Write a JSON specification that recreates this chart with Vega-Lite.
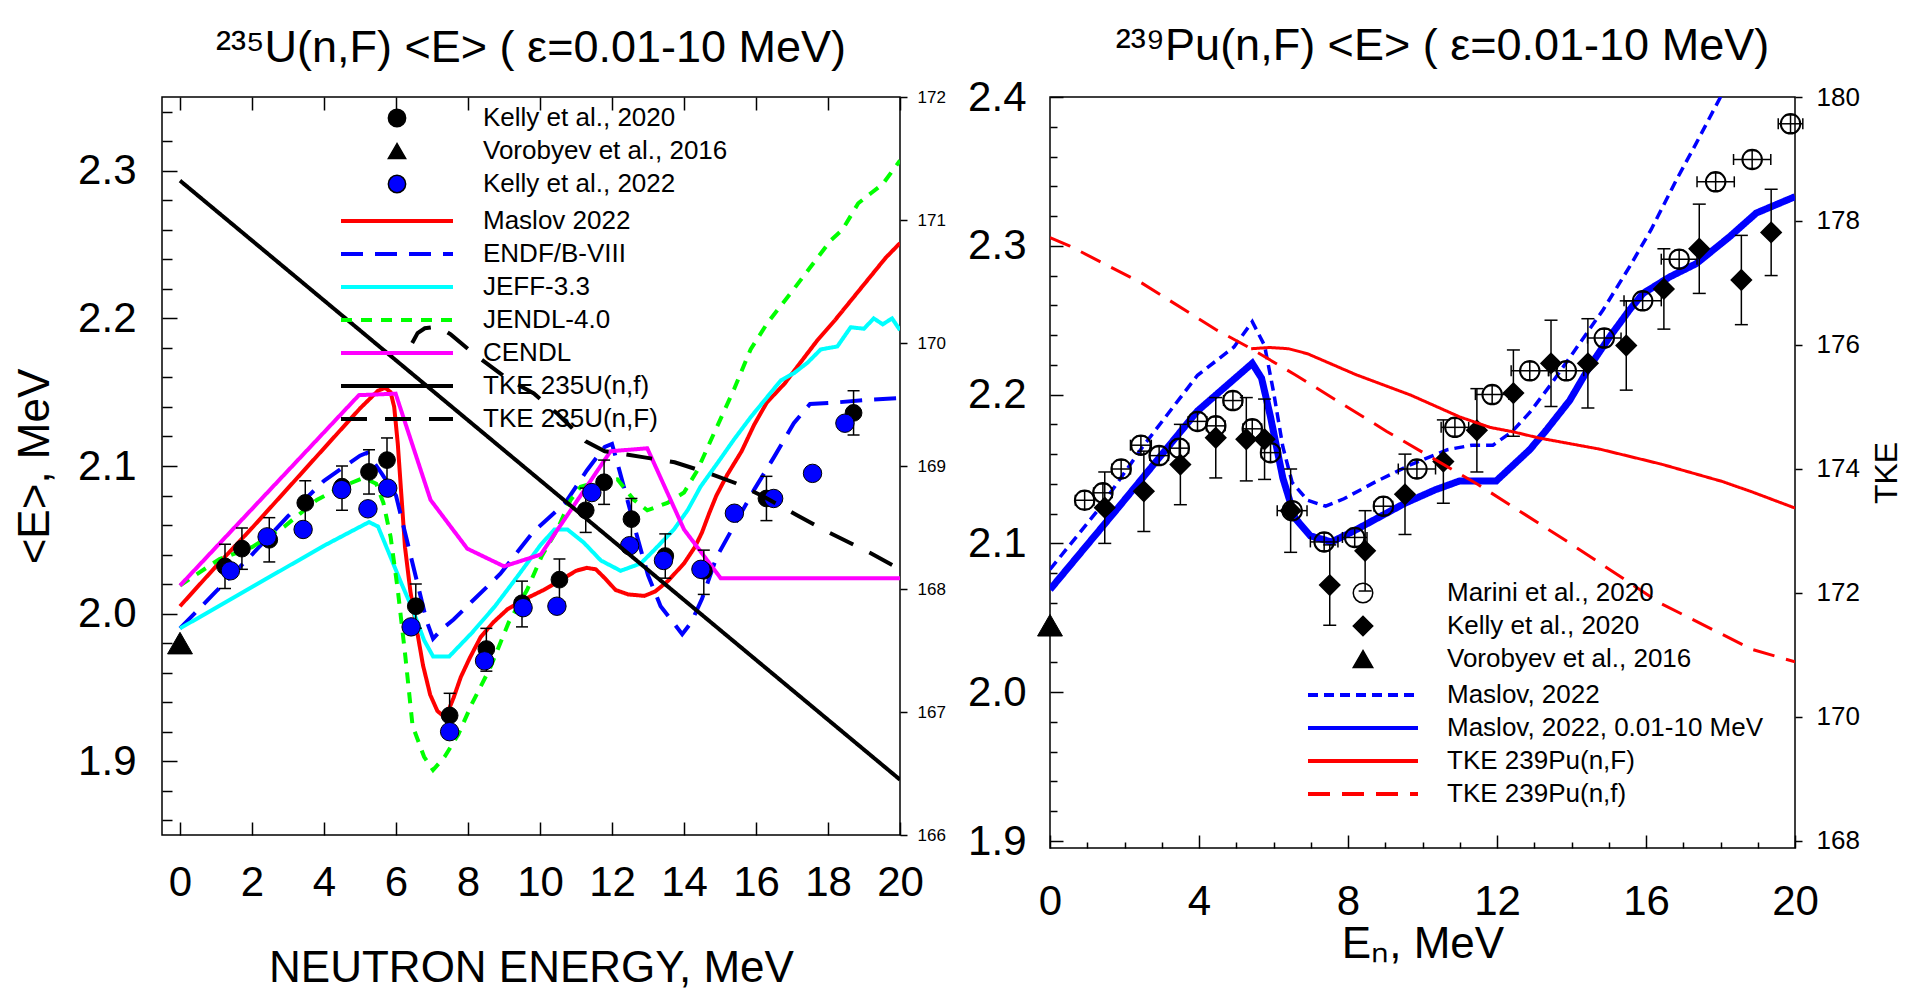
{
  "$schema": "https://vega.github.io/schema/vega-lite/v6.json",
  "background": "white",
  "padding": {"left": 12, "top": 23, "right": 0, "bottom": 0},
  "config": {
    "font": "Liberation Sans",
    "view": {"stroke": "black", "strokeWidth": 1.5},
    "axis": {"grid": false, "domain": false, "tickColor": "black", "labelColor": "black", "titleColor": "black", "titleFontWeight": "normal", "tickWidth": 1.5, "labelFont": "Liberation Sans", "titleFont": "Liberation Sans", "labelLimit": 0, "labelFlush": false},
    "legend": {"labelFont": "Liberation Sans", "labelColor": "black", "labelLimit": 0}
  },
  "datasets": {
    "l_lines": [
      {"s": "Maslov 2022", "E": 0, "V": 2.005}, {"s": "Maslov 2022", "E": 1, "V": 2.032}, {"s": "Maslov 2022", "E": 2, "V": 2.058}, {"s": "Maslov 2022", "E": 3, "V": 2.085}, {"s": "Maslov 2022", "E": 4, "V": 2.112}, {"s": "Maslov 2022", "E": 5, "V": 2.139}, {"s": "Maslov 2022", "E": 5.5, "V": 2.151}, {"s": "Maslov 2022", "E": 5.7, "V": 2.153}, {"s": "Maslov 2022", "E": 5.85, "V": 2.15}, {"s": "Maslov 2022", "E": 5.95, "V": 2.14}, {"s": "Maslov 2022", "E": 6.05, "V": 2.115}, {"s": "Maslov 2022", "E": 6.15, "V": 2.08}, {"s": "Maslov 2022", "E": 6.25, "V": 2.045}, {"s": "Maslov 2022", "E": 6.4, "V": 2.015}, {"s": "Maslov 2022", "E": 6.55, "V": 1.993}, {"s": "Maslov 2022", "E": 6.75, "V": 1.965}, {"s": "Maslov 2022", "E": 6.95, "V": 1.945}, {"s": "Maslov 2022", "E": 7.15, "V": 1.934}, {"s": "Maslov 2022", "E": 7.3, "V": 1.931}, {"s": "Maslov 2022", "E": 7.45, "V": 1.934}, {"s": "Maslov 2022", "E": 7.6, "V": 1.943}, {"s": "Maslov 2022", "E": 7.8, "V": 1.957}, {"s": "Maslov 2022", "E": 8.05, "V": 1.97}, {"s": "Maslov 2022", "E": 8.35, "V": 1.984}, {"s": "Maslov 2022", "E": 8.7, "V": 1.994}, {"s": "Maslov 2022", "E": 9.1, "V": 2.003}, {"s": "Maslov 2022", "E": 9.6, "V": 2.01}, {"s": "Maslov 2022", "E": 10.1, "V": 2.016}, {"s": "Maslov 2022", "E": 10.6, "V": 2.023}, {"s": "Maslov 2022", "E": 11.0, "V": 2.029}, {"s": "Maslov 2022", "E": 11.3, "V": 2.031}, {"s": "Maslov 2022", "E": 11.55, "V": 2.03}, {"s": "Maslov 2022", "E": 11.8, "V": 2.024}, {"s": "Maslov 2022", "E": 12.1, "V": 2.016}, {"s": "Maslov 2022", "E": 12.45, "V": 2.013}, {"s": "Maslov 2022", "E": 12.9, "V": 2.012}, {"s": "Maslov 2022", "E": 13.2, "V": 2.015}, {"s": "Maslov 2022", "E": 13.55, "V": 2.022}, {"s": "Maslov 2022", "E": 14.0, "V": 2.034}, {"s": "Maslov 2022", "E": 14.3, "V": 2.045}, {"s": "Maslov 2022", "E": 14.5, "V": 2.055}, {"s": "Maslov 2022", "E": 14.7, "V": 2.068}, {"s": "Maslov 2022", "E": 14.9, "V": 2.08}, {"s": "Maslov 2022", "E": 15.2, "V": 2.094}, {"s": "Maslov 2022", "E": 15.6, "V": 2.11}, {"s": "Maslov 2022", "E": 15.95, "V": 2.128}, {"s": "Maslov 2022", "E": 16.3, "V": 2.143}, {"s": "Maslov 2022", "E": 16.8, "V": 2.156}, {"s": "Maslov 2022", "E": 17.2, "V": 2.169}, {"s": "Maslov 2022", "E": 17.7, "V": 2.185}, {"s": "Maslov 2022", "E": 18.2, "V": 2.199}, {"s": "Maslov 2022", "E": 18.7, "V": 2.214}, {"s": "Maslov 2022", "E": 19.2, "V": 2.229}, {"s": "Maslov 2022", "E": 19.6, "V": 2.241}, {"s": "Maslov 2022", "E": 20, "V": 2.251},
      {"s": "ENDF/B-VIII", "E": 0, "V": 1.99}, {"s": "ENDF/B-VIII", "E": 1, "V": 2.015}, {"s": "ENDF/B-VIII", "E": 2, "V": 2.04}, {"s": "ENDF/B-VIII", "E": 3, "V": 2.066}, {"s": "ENDF/B-VIII", "E": 4, "V": 2.09}, {"s": "ENDF/B-VIII", "E": 5, "V": 2.107}, {"s": "ENDF/B-VIII", "E": 5.2, "V": 2.109}, {"s": "ENDF/B-VIII", "E": 5.6, "V": 2.095}, {"s": "ENDF/B-VIII", "E": 6.0, "V": 2.08}, {"s": "ENDF/B-VIII", "E": 6.3, "V": 2.05}, {"s": "ENDF/B-VIII", "E": 6.6, "V": 2.02}, {"s": "ENDF/B-VIII", "E": 6.85, "V": 1.995}, {"s": "ENDF/B-VIII", "E": 7.03, "V": 1.983}, {"s": "ENDF/B-VIII", "E": 7.3, "V": 1.99}, {"s": "ENDF/B-VIII", "E": 7.6, "V": 1.996}, {"s": "ENDF/B-VIII", "E": 8.1, "V": 2.008}, {"s": "ENDF/B-VIII", "E": 8.9, "V": 2.027}, {"s": "ENDF/B-VIII", "E": 9.8, "V": 2.055}, {"s": "ENDF/B-VIII", "E": 10.7, "V": 2.075}, {"s": "ENDF/B-VIII", "E": 11.3, "V": 2.097}, {"s": "ENDF/B-VIII", "E": 11.8, "V": 2.113}, {"s": "ENDF/B-VIII", "E": 12.0, "V": 2.115}, {"s": "ENDF/B-VIII", "E": 12.15, "V": 2.102}, {"s": "ENDF/B-VIII", "E": 12.45, "V": 2.075}, {"s": "ENDF/B-VIII", "E": 12.7, "V": 2.052}, {"s": "ENDF/B-VIII", "E": 13.0, "V": 2.026}, {"s": "ENDF/B-VIII", "E": 13.35, "V": 2.005}, {"s": "ENDF/B-VIII", "E": 13.7, "V": 1.994}, {"s": "ENDF/B-VIII", "E": 13.95, "V": 1.986}, {"s": "ENDF/B-VIII", "E": 14.2, "V": 1.994}, {"s": "ENDF/B-VIII", "E": 14.5, "V": 2.01}, {"s": "ENDF/B-VIII", "E": 14.9, "V": 2.038}, {"s": "ENDF/B-VIII", "E": 15.4, "V": 2.06}, {"s": "ENDF/B-VIII", "E": 15.95, "V": 2.084}, {"s": "ENDF/B-VIII", "E": 16.5, "V": 2.106}, {"s": "ENDF/B-VIII", "E": 17.05, "V": 2.129}, {"s": "ENDF/B-VIII", "E": 17.5, "V": 2.142}, {"s": "ENDF/B-VIII", "E": 18.2, "V": 2.143}, {"s": "ENDF/B-VIII", "E": 19.2, "V": 2.145}, {"s": "ENDF/B-VIII", "E": 20, "V": 2.146},
      {"s": "JEFF-3.3", "E": 0, "V": 1.99}, {"s": "JEFF-3.3", "E": 1, "V": 2.004}, {"s": "JEFF-3.3", "E": 2, "V": 2.018}, {"s": "JEFF-3.3", "E": 3, "V": 2.032}, {"s": "JEFF-3.3", "E": 4, "V": 2.046}, {"s": "JEFF-3.3", "E": 5.25, "V": 2.062}, {"s": "JEFF-3.3", "E": 5.5, "V": 2.059}, {"s": "JEFF-3.3", "E": 5.82, "V": 2.04}, {"s": "JEFF-3.3", "E": 6.14, "V": 2.021}, {"s": "JEFF-3.3", "E": 6.46, "V": 2.003}, {"s": "JEFF-3.3", "E": 6.78, "V": 1.982}, {"s": "JEFF-3.3", "E": 7.03, "V": 1.971}, {"s": "JEFF-3.3", "E": 7.48, "V": 1.971}, {"s": "JEFF-3.3", "E": 8.11, "V": 1.987}, {"s": "JEFF-3.3", "E": 8.75, "V": 2.005}, {"s": "JEFF-3.3", "E": 9.4, "V": 2.026}, {"s": "JEFF-3.3", "E": 10.0, "V": 2.046}, {"s": "JEFF-3.3", "E": 10.4, "V": 2.057}, {"s": "JEFF-3.3", "E": 10.76, "V": 2.057}, {"s": "JEFF-3.3", "E": 11.22, "V": 2.048}, {"s": "JEFF-3.3", "E": 11.69, "V": 2.036}, {"s": "JEFF-3.3", "E": 12.24, "V": 2.029}, {"s": "JEFF-3.3", "E": 12.8, "V": 2.034}, {"s": "JEFF-3.3", "E": 13.17, "V": 2.043}, {"s": "JEFF-3.3", "E": 13.72, "V": 2.057}, {"s": "JEFF-3.3", "E": 14.1, "V": 2.07}, {"s": "JEFF-3.3", "E": 14.46, "V": 2.086}, {"s": "JEFF-3.3", "E": 14.93, "V": 2.102}, {"s": "JEFF-3.3", "E": 15.39, "V": 2.118}, {"s": "JEFF-3.3", "E": 15.85, "V": 2.133}, {"s": "JEFF-3.3", "E": 16.32, "V": 2.147}, {"s": "JEFF-3.3", "E": 16.69, "V": 2.158}, {"s": "JEFF-3.3", "E": 17.06, "V": 2.163}, {"s": "JEFF-3.3", "E": 17.43, "V": 2.17}, {"s": "JEFF-3.3", "E": 17.8, "V": 2.179}, {"s": "JEFF-3.3", "E": 18.26, "V": 2.181}, {"s": "JEFF-3.3", "E": 18.63, "V": 2.194}, {"s": "JEFF-3.3", "E": 19.0, "V": 2.193}, {"s": "JEFF-3.3", "E": 19.27, "V": 2.2}, {"s": "JEFF-3.3", "E": 19.52, "V": 2.196}, {"s": "JEFF-3.3", "E": 19.78, "V": 2.2}, {"s": "JEFF-3.3", "E": 20, "V": 2.192},
      {"s": "JENDL-4.0", "E": 0, "V": 2.019}, {"s": "JENDL-4.0", "E": 1.1, "V": 2.037}, {"s": "JENDL-4.0", "E": 2, "V": 2.045}, {"s": "JENDL-4.0", "E": 2.9, "V": 2.059}, {"s": "JENDL-4.0", "E": 3.8, "V": 2.077}, {"s": "JENDL-4.0", "E": 4.5, "V": 2.086}, {"s": "JENDL-4.0", "E": 5.1, "V": 2.092}, {"s": "JENDL-4.0", "E": 5.45, "V": 2.088}, {"s": "JENDL-4.0", "E": 5.65, "V": 2.075}, {"s": "JENDL-4.0", "E": 5.85, "V": 2.052}, {"s": "JENDL-4.0", "E": 6.05, "V": 2.016}, {"s": "JENDL-4.0", "E": 6.26, "V": 1.971}, {"s": "JENDL-4.0", "E": 6.46, "V": 1.924}, {"s": "JENDL-4.0", "E": 6.78, "V": 1.903}, {"s": "JENDL-4.0", "E": 7.03, "V": 1.894}, {"s": "JENDL-4.0", "E": 7.35, "V": 1.903}, {"s": "JENDL-4.0", "E": 7.73, "V": 1.918}, {"s": "JENDL-4.0", "E": 8.11, "V": 1.939}, {"s": "JENDL-4.0", "E": 8.63, "V": 1.964}, {"s": "JENDL-4.0", "E": 9.13, "V": 1.994}, {"s": "JENDL-4.0", "E": 9.64, "V": 2.016}, {"s": "JENDL-4.0", "E": 10.05, "V": 2.039}, {"s": "JENDL-4.0", "E": 10.48, "V": 2.057}, {"s": "JENDL-4.0", "E": 10.85, "V": 2.077}, {"s": "JENDL-4.0", "E": 11.13, "V": 2.086}, {"s": "JENDL-4.0", "E": 11.7, "V": 2.09}, {"s": "JENDL-4.0", "E": 12.15, "V": 2.091}, {"s": "JENDL-4.0", "E": 12.61, "V": 2.077}, {"s": "JENDL-4.0", "E": 12.98, "V": 2.07}, {"s": "JENDL-4.0", "E": 13.54, "V": 2.075}, {"s": "JENDL-4.0", "E": 14.0, "V": 2.082}, {"s": "JENDL-4.0", "E": 14.37, "V": 2.097}, {"s": "JENDL-4.0", "E": 14.83, "V": 2.122}, {"s": "JENDL-4.0", "E": 15.39, "V": 2.152}, {"s": "JENDL-4.0", "E": 15.85, "V": 2.179}, {"s": "JENDL-4.0", "E": 16.32, "V": 2.197}, {"s": "JENDL-4.0", "E": 16.96, "V": 2.217}, {"s": "JENDL-4.0", "E": 17.52, "V": 2.235}, {"s": "JENDL-4.0", "E": 18.08, "V": 2.253}, {"s": "JENDL-4.0", "E": 18.4, "V": 2.26}, {"s": "JENDL-4.0", "E": 18.84, "V": 2.278}, {"s": "JENDL-4.0", "E": 19.2, "V": 2.285}, {"s": "JENDL-4.0", "E": 19.52, "V": 2.291}, {"s": "JENDL-4.0", "E": 20, "V": 2.307},
      {"s": "CENDL", "E": 0, "V": 2.019}, {"s": "CENDL", "E": 4.97, "V": 2.148}, {"s": "CENDL", "E": 5.99, "V": 2.149}, {"s": "CENDL", "E": 6.96, "V": 2.077}, {"s": "CENDL", "E": 7.98, "V": 2.044}, {"s": "CENDL", "E": 9.0, "V": 2.032}, {"s": "CENDL", "E": 10.02, "V": 2.04}, {"s": "CENDL", "E": 11.96, "V": 2.11}, {"s": "CENDL", "E": 12.98, "V": 2.112}, {"s": "CENDL", "E": 14.0, "V": 2.057}, {"s": "CENDL", "E": 15.02, "V": 2.024}, {"s": "CENDL", "E": 20, "V": 2.024}
    ],
    "l_tke": [
      {"s": "TKE 235U(n,f)", "E": 0, "T": 171.32}, {"s": "TKE 235U(n,f)", "E": 20, "T": 166.45},
      {"s": "TKE 235U(n,F)", "E": 6.45, "T": 170.0}, {"s": "TKE 235U(n,F)", "E": 6.6, "T": 170.08}, {"s": "TKE 235U(n,F)", "E": 6.8, "T": 170.12}, {"s": "TKE 235U(n,F)", "E": 7.06, "T": 170.13}, {"s": "TKE 235U(n,F)", "E": 7.3, "T": 170.11}, {"s": "TKE 235U(n,F)", "E": 7.52, "T": 170.07}, {"s": "TKE 235U(n,F)", "E": 8.17, "T": 169.91}, {"s": "TKE 235U(n,F)", "E": 9.14, "T": 169.7}, {"s": "TKE 235U(n,F)", "E": 9.83, "T": 169.59}, {"s": "TKE 235U(n,F)", "E": 10.5, "T": 169.42}, {"s": "TKE 235U(n,F)", "E": 11.27, "T": 169.2}, {"s": "TKE 235U(n,F)", "E": 11.8, "T": 169.12}, {"s": "TKE 235U(n,F)", "E": 12.9, "T": 169.07}, {"s": "TKE 235U(n,F)", "E": 13.74, "T": 169.03}, {"s": "TKE 235U(n,F)", "E": 14.6, "T": 168.95}, {"s": "TKE 235U(n,F)", "E": 15.44, "T": 168.86}, {"s": "TKE 235U(n,F)", "E": 16.22, "T": 168.75}, {"s": "TKE 235U(n,F)", "E": 17.14, "T": 168.6}, {"s": "TKE 235U(n,F)", "E": 17.89, "T": 168.48}, {"s": "TKE 235U(n,F)", "E": 19.19, "T": 168.29}, {"s": "TKE 235U(n,F)", "E": 20, "T": 168.16}
    ],
    "l_pts": [
      {"s": "Kelly et al., 2020", "E": 1.25, "V": 2.032}, {"s": "Kelly et al., 2020", "E": 1.72, "V": 2.044}, {"s": "Kelly et al., 2020", "E": 2.48, "V": 2.05}, {"s": "Kelly et al., 2020", "E": 3.48, "V": 2.075}, {"s": "Kelly et al., 2020", "E": 4.5, "V": 2.086}, {"s": "Kelly et al., 2020", "E": 5.25, "V": 2.096}, {"s": "Kelly et al., 2020", "E": 5.75, "V": 2.104}, {"s": "Kelly et al., 2020", "E": 6.55, "V": 2.005}, {"s": "Kelly et al., 2020", "E": 7.49, "V": 1.931}, {"s": "Kelly et al., 2020", "E": 8.51, "V": 1.976}, {"s": "Kelly et al., 2020", "E": 9.5, "V": 2.007}, {"s": "Kelly et al., 2020", "E": 10.54, "V": 2.023}, {"s": "Kelly et al., 2020", "E": 11.27, "V": 2.07}, {"s": "Kelly et al., 2020", "E": 11.78, "V": 2.089}, {"s": "Kelly et al., 2020", "E": 12.54, "V": 2.064}, {"s": "Kelly et al., 2020", "E": 13.48, "V": 2.039}, {"s": "Kelly et al., 2020", "E": 14.55, "V": 2.029}, {"s": "Kelly et al., 2020", "E": 16.29, "V": 2.078}, {"s": "Kelly et al., 2020", "E": 18.71, "V": 2.136},
      {"s": "Vorobyev et al., 2016", "E": 0, "V": 1.98},
      {"s": "Kelly et al., 2022", "E": 1.4, "V": 2.029}, {"s": "Kelly et al., 2022", "E": 2.42, "V": 2.052}, {"s": "Kelly et al., 2022", "E": 3.42, "V": 2.057}, {"s": "Kelly et al., 2022", "E": 4.49, "V": 2.084}, {"s": "Kelly et al., 2022", "E": 5.22, "V": 2.071}, {"s": "Kelly et al., 2022", "E": 5.77, "V": 2.085}, {"s": "Kelly et al., 2022", "E": 6.42, "V": 1.991}, {"s": "Kelly et al., 2022", "E": 7.49, "V": 1.92}, {"s": "Kelly et al., 2022", "E": 8.46, "V": 1.968}, {"s": "Kelly et al., 2022", "E": 9.53, "V": 2.004}, {"s": "Kelly et al., 2022", "E": 10.47, "V": 2.005}, {"s": "Kelly et al., 2022", "E": 11.44, "V": 2.082}, {"s": "Kelly et al., 2022", "E": 12.49, "V": 2.046}, {"s": "Kelly et al., 2022", "E": 13.43, "V": 2.036}, {"s": "Kelly et al., 2022", "E": 14.47, "V": 2.03}, {"s": "Kelly et al., 2022", "E": 15.4, "V": 2.068}, {"s": "Kelly et al., 2022", "E": 16.49, "V": 2.078}, {"s": "Kelly et al., 2022", "E": 17.57, "V": 2.095}, {"s": "Kelly et al., 2022", "E": 18.47, "V": 2.129}
    ],
    "l_err": [
      {"E": 1.25, "lo": 2.017, "hi": 2.047}, {"E": 1.72, "lo": 2.03, "hi": 2.058}, {"E": 2.48, "lo": 2.035, "hi": 2.065}, {"E": 3.48, "lo": 2.06, "hi": 2.09}, {"E": 4.5, "lo": 2.07, "hi": 2.1}, {"E": 5.25, "lo": 2.081, "hi": 2.111}, {"E": 5.75, "lo": 2.089, "hi": 2.119}, {"E": 6.55, "lo": 1.99, "hi": 2.02}, {"E": 7.49, "lo": 1.917, "hi": 1.946}, {"E": 8.51, "lo": 1.961, "hi": 1.99}, {"E": 9.5, "lo": 1.991, "hi": 2.022}, {"E": 10.54, "lo": 2.008, "hi": 2.037}, {"E": 11.27, "lo": 2.055, "hi": 2.085}, {"E": 11.78, "lo": 2.074, "hi": 2.104}, {"E": 12.54, "lo": 2.05, "hi": 2.078}, {"E": 13.48, "lo": 2.024, "hi": 2.054}, {"E": 14.55, "lo": 2.013, "hi": 2.043}, {"E": 16.29, "lo": 2.063, "hi": 2.093}, {"E": 18.71, "lo": 2.121, "hi": 2.151}
    ],
    "r_lines": [
      {"s": "Maslov, 2022", "E": 0, "V": 2.0825}, {"s": "Maslov, 2022", "E": 1.34, "V": 2.124}, {"s": "Maslov, 2022", "E": 2.49, "V": 2.165}, {"s": "Maslov, 2022", "E": 3.96, "V": 2.213}, {"s": "Maslov, 2022", "E": 4.94, "V": 2.232}, {"s": "Maslov, 2022", "E": 5.43, "V": 2.249}, {"s": "Maslov, 2022", "E": 5.76, "V": 2.233}, {"s": "Maslov, 2022", "E": 6.0, "V": 2.202}, {"s": "Maslov, 2022", "E": 6.25, "V": 2.165}, {"s": "Maslov, 2022", "E": 6.5, "V": 2.141}, {"s": "Maslov, 2022", "E": 6.91, "V": 2.129}, {"s": "Maslov, 2022", "E": 7.4, "V": 2.125}, {"s": "Maslov, 2022", "E": 7.89, "V": 2.13}, {"s": "Maslov, 2022", "E": 8.71, "V": 2.141}, {"s": "Maslov, 2022", "E": 9.69, "V": 2.153}, {"s": "Maslov, 2022", "E": 10.67, "V": 2.163}, {"s": "Maslov, 2022", "E": 11.33, "V": 2.166}, {"s": "Maslov, 2022", "E": 11.89, "V": 2.166}, {"s": "Maslov, 2022", "E": 12.4, "V": 2.175}, {"s": "Maslov, 2022", "E": 12.88, "V": 2.188}, {"s": "Maslov, 2022", "E": 13.45, "V": 2.207}, {"s": "Maslov, 2022", "E": 14.04, "V": 2.228}, {"s": "Maslov, 2022", "E": 14.85, "V": 2.257}, {"s": "Maslov, 2022", "E": 15.56, "V": 2.286}, {"s": "Maslov, 2022", "E": 16.14, "V": 2.311}, {"s": "Maslov, 2022", "E": 16.81, "V": 2.344}, {"s": "Maslov, 2022", "E": 17.35, "V": 2.369}, {"s": "Maslov, 2022", "E": 17.98, "V": 2.399}, {"s": "Maslov, 2022", "E": 18.5, "V": 2.425},
      {"s": "Maslov, 2022, 0.01-10 MeV", "E": 0, "V": 2.069}, {"s": "Maslov, 2022, 0.01-10 MeV", "E": 1.83, "V": 2.124}, {"s": "Maslov, 2022, 0.01-10 MeV", "E": 3.96, "V": 2.189}, {"s": "Maslov, 2022, 0.01-10 MeV", "E": 5.43, "V": 2.221}, {"s": "Maslov, 2022, 0.01-10 MeV", "E": 5.68, "V": 2.211}, {"s": "Maslov, 2022, 0.01-10 MeV", "E": 5.92, "V": 2.185}, {"s": "Maslov, 2022, 0.01-10 MeV", "E": 6.25, "V": 2.144}, {"s": "Maslov, 2022, 0.01-10 MeV", "E": 6.58, "V": 2.117}, {"s": "Maslov, 2022, 0.01-10 MeV", "E": 6.99, "V": 2.105}, {"s": "Maslov, 2022, 0.01-10 MeV", "E": 7.56, "V": 2.101}, {"s": "Maslov, 2022, 0.01-10 MeV", "E": 8.13, "V": 2.108}, {"s": "Maslov, 2022, 0.01-10 MeV", "E": 8.79, "V": 2.117}, {"s": "Maslov, 2022, 0.01-10 MeV", "E": 9.53, "V": 2.127}, {"s": "Maslov, 2022, 0.01-10 MeV", "E": 10.34, "V": 2.136}, {"s": "Maslov, 2022, 0.01-10 MeV", "E": 11.0, "V": 2.142}, {"s": "Maslov, 2022, 0.01-10 MeV", "E": 11.98, "V": 2.142}, {"s": "Maslov, 2022, 0.01-10 MeV", "E": 12.88, "V": 2.163}, {"s": "Maslov, 2022, 0.01-10 MeV", "E": 13.32, "V": 2.176}, {"s": "Maslov, 2022, 0.01-10 MeV", "E": 13.95, "V": 2.196}, {"s": "Maslov, 2022, 0.01-10 MeV", "E": 14.49, "V": 2.219}, {"s": "Maslov, 2022, 0.01-10 MeV", "E": 15.03, "V": 2.239}, {"s": "Maslov, 2022, 0.01-10 MeV", "E": 15.56, "V": 2.257}, {"s": "Maslov, 2022, 0.01-10 MeV", "E": 15.92, "V": 2.268}, {"s": "Maslov, 2022, 0.01-10 MeV", "E": 16.63, "V": 2.279}, {"s": "Maslov, 2022, 0.01-10 MeV", "E": 17.35, "V": 2.288}, {"s": "Maslov, 2022, 0.01-10 MeV", "E": 18.24, "V": 2.306}, {"s": "Maslov, 2022, 0.01-10 MeV", "E": 18.96, "V": 2.322}, {"s": "Maslov, 2022, 0.01-10 MeV", "E": 20, "V": 2.333}
    ],
    "r_tke": [
      {"s": "TKE 239Pu(n,F)", "E": 5.4, "T": 175.94}, {"s": "TKE 239Pu(n,F)", "E": 5.9, "T": 175.96}, {"s": "TKE 239Pu(n,F)", "E": 6.4, "T": 175.94}, {"s": "TKE 239Pu(n,F)", "E": 6.91, "T": 175.86}, {"s": "TKE 239Pu(n,F)", "E": 8.22, "T": 175.52}, {"s": "TKE 239Pu(n,F)", "E": 9.69, "T": 175.19}, {"s": "TKE 239Pu(n,F)", "E": 11.0, "T": 174.84}, {"s": "TKE 239Pu(n,F)", "E": 11.82, "T": 174.67}, {"s": "TKE 239Pu(n,F)", "E": 12.43, "T": 174.6}, {"s": "TKE 239Pu(n,F)", "E": 13.13, "T": 174.5}, {"s": "TKE 239Pu(n,F)", "E": 14.76, "T": 174.32}, {"s": "TKE 239Pu(n,F)", "E": 16.4, "T": 174.08}, {"s": "TKE 239Pu(n,F)", "E": 18.04, "T": 173.8}, {"s": "TKE 239Pu(n,F)", "E": 18.85, "T": 173.63}, {"s": "TKE 239Pu(n,F)", "E": 20, "T": 173.37},
      {"s": "TKE 239Pu(n,f)", "E": 0, "T": 177.73}, {"s": "TKE 239Pu(n,f)", "E": 0.52, "T": 177.6}, {"s": "TKE 239Pu(n,f)", "E": 2.49, "T": 176.99}, {"s": "TKE 239Pu(n,f)", "E": 4.45, "T": 176.25}, {"s": "TKE 239Pu(n,f)", "E": 5.4, "T": 175.94}, {"s": "TKE 239Pu(n,f)", "E": 6.58, "T": 175.52}, {"s": "TKE 239Pu(n,f)", "E": 9.03, "T": 174.61}, {"s": "TKE 239Pu(n,f)", "E": 11.49, "T": 173.75}, {"s": "TKE 239Pu(n,f)", "E": 13.94, "T": 172.81}, {"s": "TKE 239Pu(n,f)", "E": 16.4, "T": 171.83}, {"s": "TKE 239Pu(n,f)", "E": 18.85, "T": 171.09}, {"s": "TKE 239Pu(n,f)", "E": 20, "T": 170.89}
    ],
    "r_pts": [
      {"s": "Marini et al., 2020", "E": 0.93, "V": 2.129}, {"s": "Marini et al., 2020", "E": 1.42, "V": 2.134}, {"s": "Marini et al., 2020", "E": 1.91, "V": 2.15}, {"s": "Marini et al., 2020", "E": 2.44, "V": 2.166}, {"s": "Marini et al., 2020", "E": 2.93, "V": 2.159}, {"s": "Marini et al., 2020", "E": 3.47, "V": 2.164}, {"s": "Marini et al., 2020", "E": 3.96, "V": 2.182}, {"s": "Marini et al., 2020", "E": 4.45, "V": 2.179}, {"s": "Marini et al., 2020", "E": 4.91, "V": 2.196}, {"s": "Marini et al., 2020", "E": 5.43, "V": 2.177}, {"s": "Marini et al., 2020", "E": 5.92, "V": 2.161}, {"s": "Marini et al., 2020", "E": 6.5, "V": 2.122}, {"s": "Marini et al., 2020", "E": 7.36, "V": 2.101}, {"s": "Marini et al., 2020", "E": 8.18, "V": 2.104}, {"s": "Marini et al., 2020", "E": 8.95, "V": 2.125}, {"s": "Marini et al., 2020", "E": 9.85, "V": 2.15}, {"s": "Marini et al., 2020", "E": 10.87, "V": 2.178}, {"s": "Marini et al., 2020", "E": 11.87, "V": 2.2}, {"s": "Marini et al., 2020", "E": 12.88, "V": 2.216}, {"s": "Marini et al., 2020", "E": 13.86, "V": 2.216}, {"s": "Marini et al., 2020", "E": 14.88, "V": 2.238}, {"s": "Marini et al., 2020", "E": 15.91, "V": 2.263}, {"s": "Marini et al., 2020", "E": 16.89, "V": 2.291}, {"s": "Marini et al., 2020", "E": 17.87, "V": 2.343}, {"s": "Marini et al., 2020", "E": 18.85, "V": 2.358}, {"s": "Marini et al., 2020", "E": 19.88, "V": 2.382},
      {"s": "Kelly et al., 2020", "E": 1.47, "V": 2.124}, {"s": "Kelly et al., 2020", "E": 2.52, "V": 2.135}, {"s": "Kelly et al., 2020", "E": 3.5, "V": 2.153}, {"s": "Kelly et al., 2020", "E": 4.45, "V": 2.171}, {"s": "Kelly et al., 2020", "E": 5.27, "V": 2.17}, {"s": "Kelly et al., 2020", "E": 5.76, "V": 2.17}, {"s": "Kelly et al., 2020", "E": 6.46, "V": 2.122}, {"s": "Kelly et al., 2020", "E": 7.51, "V": 2.072}, {"s": "Kelly et al., 2020", "E": 8.46, "V": 2.095}, {"s": "Kelly et al., 2020", "E": 9.53, "V": 2.133}, {"s": "Kelly et al., 2020", "E": 10.56, "V": 2.155}, {"s": "Kelly et al., 2020", "E": 11.46, "V": 2.176}, {"s": "Kelly et al., 2020", "E": 12.44, "V": 2.201}, {"s": "Kelly et al., 2020", "E": 13.45, "V": 2.221}, {"s": "Kelly et al., 2020", "E": 14.44, "V": 2.221}, {"s": "Kelly et al., 2020", "E": 15.47, "V": 2.233}, {"s": "Kelly et al., 2020", "E": 16.48, "V": 2.271}, {"s": "Kelly et al., 2020", "E": 17.43, "V": 2.298}, {"s": "Kelly et al., 2020", "E": 18.56, "V": 2.277}, {"s": "Kelly et al., 2020", "E": 19.36, "V": 2.309},
      {"s": "Vorobyev et al., 2016", "E": 0, "V": 2.045}
    ],
    "r_kerr": [
      {"E": 1.47, "lo": 2.1, "hi": 2.148}, {"E": 2.52, "lo": 2.108, "hi": 2.162}, {"E": 3.5, "lo": 2.126, "hi": 2.18}, {"E": 4.45, "lo": 2.144, "hi": 2.198}, {"E": 5.27, "lo": 2.142, "hi": 2.198}, {"E": 5.76, "lo": 2.143, "hi": 2.197}, {"E": 6.46, "lo": 2.094, "hi": 2.15}, {"E": 7.51, "lo": 2.045, "hi": 2.099}, {"E": 8.46, "lo": 2.068, "hi": 2.122}, {"E": 9.53, "lo": 2.106, "hi": 2.16}, {"E": 10.56, "lo": 2.127, "hi": 2.183}, {"E": 11.46, "lo": 2.148, "hi": 2.204}, {"E": 12.44, "lo": 2.172, "hi": 2.23}, {"E": 13.45, "lo": 2.192, "hi": 2.25}, {"E": 14.44, "lo": 2.191, "hi": 2.251}, {"E": 15.47, "lo": 2.203, "hi": 2.263}, {"E": 16.48, "lo": 2.244, "hi": 2.298}, {"E": 17.43, "lo": 2.268, "hi": 2.328}, {"E": 18.56, "lo": 2.247, "hi": 2.307}, {"E": 19.36, "lo": 2.28, "hi": 2.338}
    ],
    "r_merr": [
      {"E": 0.93, "V": 2.129, "xlo": 0.68, "xhi": 1.18, "lo": 2.123, "hi": 2.135}, {"E": 1.42, "V": 2.134, "xlo": 1.17, "xhi": 1.67, "lo": 2.128, "hi": 2.14}, {"E": 1.91, "V": 2.15, "xlo": 1.66, "xhi": 2.16, "lo": 2.144, "hi": 2.156}, {"E": 2.44, "V": 2.166, "xlo": 2.16, "xhi": 2.72, "lo": 2.16, "hi": 2.172}, {"E": 2.93, "V": 2.159, "xlo": 2.68, "xhi": 3.18, "lo": 2.153, "hi": 2.165}, {"E": 3.47, "V": 2.164, "xlo": 3.22, "xhi": 3.72, "lo": 2.158, "hi": 2.17}, {"E": 3.96, "V": 2.182, "xlo": 3.71, "xhi": 4.21, "lo": 2.176, "hi": 2.188}, {"E": 4.45, "V": 2.179, "xlo": 4.2, "xhi": 4.7, "lo": 2.173, "hi": 2.185}, {"E": 4.91, "V": 2.196, "xlo": 4.66, "xhi": 5.16, "lo": 2.19, "hi": 2.202}, {"E": 5.43, "V": 2.177, "xlo": 5.18, "xhi": 5.68, "lo": 2.171, "hi": 2.183}, {"E": 5.92, "V": 2.161, "xlo": 5.67, "xhi": 6.17, "lo": 2.155, "hi": 2.167}, {"E": 6.5, "V": 2.122, "xlo": 6.1, "xhi": 6.9, "lo": 2.116, "hi": 2.128}, {"E": 7.36, "V": 2.101, "xlo": 6.99, "xhi": 7.73, "lo": 2.095, "hi": 2.107}, {"E": 8.18, "V": 2.104, "xlo": 7.85, "xhi": 8.51, "lo": 2.098, "hi": 2.11}, {"E": 8.95, "V": 2.125, "xlo": 8.7, "xhi": 9.2, "lo": 2.119, "hi": 2.131}, {"E": 9.85, "V": 2.15, "xlo": 9.35, "xhi": 10.35, "lo": 2.144, "hi": 2.156}, {"E": 10.87, "V": 2.178, "xlo": 10.5, "xhi": 11.24, "lo": 2.172, "hi": 2.184}, {"E": 11.87, "V": 2.2, "xlo": 11.42, "xhi": 12.32, "lo": 2.194, "hi": 2.206}, {"E": 12.88, "V": 2.216, "xlo": 12.38, "xhi": 13.38, "lo": 2.21, "hi": 2.222}, {"E": 13.86, "V": 2.216, "xlo": 13.39, "xhi": 14.33, "lo": 2.21, "hi": 2.222}, {"E": 14.88, "V": 2.238, "xlo": 14.43, "xhi": 15.33, "lo": 2.232, "hi": 2.244}, {"E": 15.91, "V": 2.263, "xlo": 15.41, "xhi": 16.41, "lo": 2.257, "hi": 2.269}, {"E": 16.89, "V": 2.291, "xlo": 16.41, "xhi": 17.37, "lo": 2.285, "hi": 2.297}, {"E": 17.87, "V": 2.343, "xlo": 17.37, "xhi": 18.37, "lo": 2.337, "hi": 2.349}, {"E": 18.85, "V": 2.358, "xlo": 18.35, "xhi": 19.35, "lo": 2.352, "hi": 2.364}, {"E": 19.88, "V": 2.382, "xlo": 19.55, "xhi": 20.21, "lo": 2.376, "hi": 2.388}
    ]
  },
  "spacing": 19,
  "resolve": {
    "scale": {"stroke": "independent", "strokeDash": "independent", "fill": "independent", "shape": "independent"},
    "legend": {"stroke": "independent", "strokeDash": "independent", "fill": "independent", "shape": "independent"}
  },
  "hconcat": [
    {
      "width": 738,
      "height": 738,
      "title": {"text": "²³⁵U(n,F) <E> ( ε=0.01-10 MeV)", "fontSize": 45, "fontWeight": "normal", "anchor": "middle", "offset": 17, "color": "black"},
      "layer": [
        {
          "encoding": {
            "x": {"field": "E", "type": "quantitative", "scale": {"domain": [-0.5, 20], "nice": false, "zero": false},
              "axis": {"orient": "bottom", "values": [0, 2, 4, 6, 8, 10, 12, 14, 16, 18, 20], "format": "d", "labelFontSize": 42, "tickSize": -13, "labelPadding": 40, "title": "NEUTRON ENERGY, MeV", "titleFontSize": 44, "titlePadding": 43}},
            "y": {"field": "V", "type": "quantitative", "scale": {"domain": [1.85, 2.35], "nice": false, "zero": false},
              "axis": {"orient": "left", "values": [1.86, 1.88, 1.9, 1.92, 1.94, 1.96, 1.98, 2.0, 2.02, 2.04, 2.06, 2.08, 2.1, 2.12, 2.14, 2.16, 2.18, 2.2, 2.22, 2.24, 2.26, 2.28, 2.3, 2.32, 2.34],
                "labelExpr": "abs(datum.value*10 - round(datum.value*10)) < 0.001 ? format(datum.value, '.1f') : ''",
                "tickSize": {"condition": {"test": "abs(datum.value*10 - round(datum.value*10)) < 0.001", "value": -15}, "value": -10},
                "labelPadding": 41, "labelFontSize": 42, "title": "<E>, MeV", "titleFontSize": 44, "titlePadding": 20}}
          },
          "layer": [
            {
              "data": {"name": "l_lines"},
              "mark": {"type": "line", "clip": true, "strokeWidth": 4},
              "encoding": {
                "stroke": {"field": "s", "type": "nominal", "scale": {"domain": ["Maslov 2022", "ENDF/B-VIII", "JEFF-3.3", "JENDL-4.0", "CENDL", "TKE 235U(n,f)", "TKE 235U(n,F)"], "range": ["#ff0000", "#0000ff", "#00ffff", "#00ff00", "#ff00ff", "#000000", "#000000"]},
                  "legend": {"orient": "none", "legendX": 222, "legendY": 111, "title": null, "labelFontSize": 26, "labelOffset": 73, "rowPadding": 7, "symbolType": "M-11.2,0H11.2", "symbolSize": 100, "symbolStrokeWidth": 4, "padding": 0}},
                "strokeDash": {"field": "s", "type": "nominal", "scale": {"domain": ["Maslov 2022", "ENDF/B-VIII", "JEFF-3.3", "JENDL-4.0", "CENDL", "TKE 235U(n,f)", "TKE 235U(n,F)"], "range": [[1, 0], [22, 12], [1, 0], [11, 9], [1, 0], [1, 0], [26, 18]]},
                  "legend": {"orient": "none", "legendX": 222, "legendY": 111, "title": null, "labelFontSize": 26, "labelOffset": 73, "rowPadding": 7, "symbolType": "M-11.2,0H11.2", "symbolSize": 100, "symbolStrokeWidth": 4, "padding": 0}}
              }
            },
            {
              "data": {"name": "l_err"},
              "mark": {"type": "rule", "color": "black", "strokeWidth": 1.5},
              "encoding": {"y": {"field": "lo", "type": "quantitative"}, "y2": {"field": "hi"}}
            },
            {
              "data": {"name": "l_err"},
              "mark": {"type": "tick", "orient": "horizontal", "color": "black", "thickness": 1.5, "size": 12, "opacity": 1},
              "encoding": {"y": {"field": "lo", "type": "quantitative"}}
            },
            {
              "data": {"name": "l_err"},
              "mark": {"type": "tick", "orient": "horizontal", "color": "black", "thickness": 1.5, "size": 12, "opacity": 1},
              "encoding": {"y": {"field": "hi", "type": "quantitative"}}
            },
            {
              "data": {"name": "l_pts"},
              "transform": [{"filter": "datum.s === 'Kelly et al., 2020'"}],
              "mark": {"type": "point", "filled": true, "stroke": "black", "strokeWidth": 1, "opacity": 1, "size": 280},
              "encoding": {
                "fill": {"field": "s", "type": "nominal", "scale": {"domain": ["Kelly et al., 2020", "Vorobyev et al., 2016", "Kelly et al., 2022"], "range": ["#000000", "#000000", "#0000ff"]},
                  "legend": {"orient": "none", "legendX": 222, "legendY": 8, "title": null, "labelFontSize": 26, "labelOffset": 73, "rowPadding": 7, "symbolSize": 300, "padding": 0}},
                "shape": {"field": "s", "type": "nominal", "scale": {"domain": ["Kelly et al., 2020", "Vorobyev et al., 2016", "Kelly et al., 2022"], "range": ["circle", "triangle-up", "circle"]},
                  "legend": {"orient": "none", "legendX": 222, "legendY": 8, "title": null, "labelFontSize": 26, "labelOffset": 73, "rowPadding": 7, "symbolSize": 300, "padding": 0}}
              }
            },
            {
              "data": {"name": "l_pts"},
              "transform": [{"filter": "datum.s === 'Vorobyev et al., 2016'"}],
              "mark": {"type": "point", "filled": true, "stroke": "black", "strokeWidth": 1, "opacity": 1, "size": 620},
              "encoding": {
                "fill": {"field": "s", "type": "nominal", "scale": {"domain": ["Kelly et al., 2020", "Vorobyev et al., 2016", "Kelly et al., 2022"], "range": ["#000000", "#000000", "#0000ff"]},
                  "legend": {"orient": "none", "legendX": 222, "legendY": 8, "title": null, "labelFontSize": 26, "labelOffset": 73, "rowPadding": 7, "symbolSize": 300, "padding": 0}},
                "shape": {"field": "s", "type": "nominal", "scale": {"domain": ["Kelly et al., 2020", "Vorobyev et al., 2016", "Kelly et al., 2022"], "range": ["circle", "triangle-up", "circle"]},
                  "legend": {"orient": "none", "legendX": 222, "legendY": 8, "title": null, "labelFontSize": 26, "labelOffset": 73, "rowPadding": 7, "symbolSize": 300, "padding": 0}}
              }
            },
            {
              "data": {"name": "l_pts"},
              "transform": [{"filter": "datum.s === 'Kelly et al., 2022'"}],
              "mark": {"type": "point", "filled": true, "stroke": "black", "strokeWidth": 1, "opacity": 1, "size": 340},
              "encoding": {
                "fill": {"field": "s", "type": "nominal", "scale": {"domain": ["Kelly et al., 2020", "Vorobyev et al., 2016", "Kelly et al., 2022"], "range": ["#000000", "#000000", "#0000ff"]},
                  "legend": {"orient": "none", "legendX": 222, "legendY": 8, "title": null, "labelFontSize": 26, "labelOffset": 73, "rowPadding": 7, "symbolSize": 300, "padding": 0}},
                "shape": {"field": "s", "type": "nominal", "scale": {"domain": ["Kelly et al., 2020", "Vorobyev et al., 2016", "Kelly et al., 2022"], "range": ["circle", "triangle-up", "circle"]},
                  "legend": {"orient": "none", "legendX": 222, "legendY": 8, "title": null, "labelFontSize": 26, "labelOffset": 73, "rowPadding": 7, "symbolSize": 300, "padding": 0}}
              }
            }
          ]
        },
        {
          "data": {"name": "l_tke"},
          "mark": {"type": "line", "clip": true, "strokeWidth": 4},
          "encoding": {
            "x": {"field": "E", "type": "quantitative", "scale": {"domain": [-0.5, 20], "nice": false, "zero": false},
              "axis": {"orient": "top", "values": [0, 2, 4, 6, 8, 10, 12, 14, 16, 18, 20], "labels": false, "tickSize": -13, "title": null}},
            "y": {"field": "T", "type": "quantitative", "scale": {"domain": [166, 172], "nice": false, "zero": false},
              "axis": {"orient": "right", "values": [166, 167, 168, 169, 170, 171, 172], "tickSize": 7, "labelPadding": 10, "labelFontSize": 17, "title": null}},
            "stroke": {"field": "s", "type": "nominal", "scale": {"domain": ["Maslov 2022", "ENDF/B-VIII", "JEFF-3.3", "JENDL-4.0", "CENDL", "TKE 235U(n,f)", "TKE 235U(n,F)"], "range": ["#ff0000", "#0000ff", "#00ffff", "#00ff00", "#ff00ff", "#000000", "#000000"]},
              "legend": {"orient": "none", "legendX": 222, "legendY": 111, "title": null, "labelFontSize": 26, "labelOffset": 73, "rowPadding": 7, "symbolType": "M-11.2,0H11.2", "symbolSize": 100, "symbolStrokeWidth": 4, "padding": 0}},
            "strokeDash": {"field": "s", "type": "nominal", "scale": {"domain": ["Maslov 2022", "ENDF/B-VIII", "JEFF-3.3", "JENDL-4.0", "CENDL", "TKE 235U(n,f)", "TKE 235U(n,F)"], "range": [[1, 0], [22, 12], [1, 0], [11, 9], [1, 0], [1, 0], [26, 18]]},
              "legend": {"orient": "none", "legendX": 222, "legendY": 111, "title": null, "labelFontSize": 26, "labelOffset": 73, "rowPadding": 7, "symbolType": "M-11.2,0H11.2", "symbolSize": 100, "symbolStrokeWidth": 4, "padding": 0}}
          }
        }
      ],
      "resolve": {"scale": {"x": "independent", "y": "independent"}}
    },
    {
      "width": 745,
      "height": 751,
      "title": {"text": "²³⁹Pu(n,F) <E> ( ε=0.01-10 MeV)", "fontSize": 45, "fontWeight": "normal", "anchor": "middle", "offset": 7, "dx": 20, "color": "black"},
      "layer": [
        {
          "encoding": {
            "x": {"field": "E", "type": "quantitative", "scale": {"domain": [0, 20], "nice": false, "zero": false},
              "axis": {"orient": "bottom", "values": [0, 1, 2, 3, 4, 5, 6, 7, 8, 9, 10, 11, 12, 13, 14, 15, 16, 17, 18, 19, 20],
                "labelExpr": "datum.value % 4 == 0 ? format(datum.value, 'd') : ''",
                "tickSize": {"condition": {"test": "datum.value % 4 == 0", "value": -13}, "value": -6},
                "labelPadding": 46, "labelFontSize": 42, "title": "Eₙ, MeV", "titleFontSize": 44, "titlePadding": 0}},
            "y": {"field": "V", "type": "quantitative", "scale": {"domain": [1.8953, 2.4], "nice": false, "zero": false},
              "axis": {"orient": "left", "values": [1.9, 1.92, 1.94, 1.96, 1.98, 2.0, 2.02, 2.04, 2.06, 2.08, 2.1, 2.12, 2.14, 2.16, 2.18, 2.2, 2.22, 2.24, 2.26, 2.28, 2.3, 2.32, 2.34, 2.36, 2.38, 2.4],
                "labelExpr": "abs(datum.value*10 - round(datum.value*10)) < 0.001 ? format(datum.value, '.1f') : ''",
                "tickSize": {"condition": {"test": "abs(datum.value*10 - round(datum.value*10)) < 0.001", "value": -13}, "value": -7},
                "labelPadding": 37, "labelFontSize": 42, "title": null}}
          },
          "layer": [
            {
              "data": {"name": "r_lines"},
              "transform": [{"filter": "datum.s === 'Maslov, 2022'"}],
              "mark": {"type": "line", "clip": true, "strokeWidth": 3.5},
              "encoding": {
                "stroke": {"field": "s", "type": "nominal", "scale": {"domain": ["Maslov, 2022", "Maslov, 2022, 0.01-10 MeV", "TKE 239Pu(n,F)", "TKE 239Pu(n,f)"], "range": ["#0000ff", "#0000ff", "#ff0000", "#ff0000"]},
                  "legend": {"orient": "none", "legendX": 300, "legendY": 585, "title": null, "labelFontSize": 26, "labelOffset": 71, "rowPadding": 7, "symbolType": "M-11,0H11", "symbolSize": 100, "symbolStrokeWidth": 4, "padding": 0}},
                "strokeDash": {"field": "s", "type": "nominal", "scale": {"domain": ["Maslov, 2022", "Maslov, 2022, 0.01-10 MeV", "TKE 239Pu(n,F)", "TKE 239Pu(n,f)"], "range": [[10, 6], [1, 0], [1, 0], [22, 12]]},
                  "legend": {"orient": "none", "legendX": 300, "legendY": 585, "title": null, "labelFontSize": 26, "labelOffset": 71, "rowPadding": 7, "symbolType": "M-11,0H11", "symbolSize": 100, "symbolStrokeWidth": 4, "padding": 0}}
              }
            },
            {
              "data": {"name": "r_lines"},
              "transform": [{"filter": "datum.s === 'Maslov, 2022, 0.01-10 MeV'"}],
              "mark": {"type": "line", "clip": true, "strokeWidth": 7},
              "encoding": {
                "stroke": {"field": "s", "type": "nominal", "scale": {"domain": ["Maslov, 2022", "Maslov, 2022, 0.01-10 MeV", "TKE 239Pu(n,F)", "TKE 239Pu(n,f)"], "range": ["#0000ff", "#0000ff", "#ff0000", "#ff0000"]},
                  "legend": {"orient": "none", "legendX": 300, "legendY": 585, "title": null, "labelFontSize": 26, "labelOffset": 71, "rowPadding": 7, "symbolType": "M-11,0H11", "symbolSize": 100, "symbolStrokeWidth": 4, "padding": 0}},
                "strokeDash": {"field": "s", "type": "nominal", "scale": {"domain": ["Maslov, 2022", "Maslov, 2022, 0.01-10 MeV", "TKE 239Pu(n,F)", "TKE 239Pu(n,f)"], "range": [[10, 6], [1, 0], [1, 0], [22, 12]]},
                  "legend": {"orient": "none", "legendX": 300, "legendY": 585, "title": null, "labelFontSize": 26, "labelOffset": 71, "rowPadding": 7, "symbolType": "M-11,0H11", "symbolSize": 100, "symbolStrokeWidth": 4, "padding": 0}}
              }
            },
            {
              "data": {"name": "r_kerr"},
              "mark": {"type": "rule", "color": "black", "strokeWidth": 1.5},
              "encoding": {"y": {"field": "lo", "type": "quantitative"}, "y2": {"field": "hi"}}
            },
            {
              "data": {"name": "r_kerr"},
              "mark": {"type": "tick", "orient": "horizontal", "color": "black", "thickness": 1.5, "size": 13, "opacity": 1},
              "encoding": {"y": {"field": "lo", "type": "quantitative"}}
            },
            {
              "data": {"name": "r_kerr"},
              "mark": {"type": "tick", "orient": "horizontal", "color": "black", "thickness": 1.5, "size": 13, "opacity": 1},
              "encoding": {"y": {"field": "hi", "type": "quantitative"}}
            },
            {
              "data": {"name": "r_merr"},
              "mark": {"type": "rule", "color": "black", "strokeWidth": 1.5},
              "encoding": {"x": {"field": "xlo", "type": "quantitative"}, "x2": {"field": "xhi"}}
            },
            {
              "data": {"name": "r_merr"},
              "mark": {"type": "tick", "orient": "vertical", "color": "black", "thickness": 1.5, "size": 11, "opacity": 1},
              "encoding": {"x": {"field": "xlo", "type": "quantitative"}}
            },
            {
              "data": {"name": "r_merr"},
              "mark": {"type": "tick", "orient": "vertical", "color": "black", "thickness": 1.5, "size": 11, "opacity": 1},
              "encoding": {"x": {"field": "xhi", "type": "quantitative"}}
            },
            {
              "data": {"name": "r_merr"},
              "mark": {"type": "rule", "color": "black", "strokeWidth": 1.5},
              "encoding": {"y": {"field": "lo", "type": "quantitative"}, "y2": {"field": "hi"}}
            },
            {
              "data": {"name": "r_merr"},
              "mark": {"type": "tick", "orient": "horizontal", "color": "black", "thickness": 1.5, "size": 10, "opacity": 1},
              "encoding": {"y": {"field": "lo", "type": "quantitative"}}
            },
            {
              "data": {"name": "r_merr"},
              "mark": {"type": "tick", "orient": "horizontal", "color": "black", "thickness": 1.5, "size": 10, "opacity": 1},
              "encoding": {"y": {"field": "hi", "type": "quantitative"}}
            },
            {
              "data": {"name": "r_pts"},
              "transform": [{"filter": "datum.s !== 'Vorobyev et al., 2016'"}],
              "mark": {"type": "point", "filled": true, "stroke": "black", "strokeWidth": 2, "opacity": 1, "size": 380},
              "encoding": {
                "fill": {"field": "s", "type": "nominal", "scale": {"domain": ["Marini et al., 2020", "Kelly et al., 2020", "Vorobyev et al., 2016"], "range": ["transparent", "#000000", "#000000"]},
                  "legend": {"orient": "none", "legendX": 300, "legendY": 483, "title": null, "labelFontSize": 26, "labelOffset": 71, "rowPadding": 7, "symbolSize": 380, "padding": 0}},
                "shape": {"field": "s", "type": "nominal", "scale": {"domain": ["Marini et al., 2020", "Kelly et al., 2020", "Vorobyev et al., 2016"], "range": ["circle", "diamond", "triangle-up"]},
                  "legend": {"orient": "none", "legendX": 300, "legendY": 483, "title": null, "labelFontSize": 26, "labelOffset": 71, "rowPadding": 7, "symbolSize": 380, "padding": 0}}
              }
            },
            {
              "data": {"name": "r_pts"},
              "transform": [{"filter": "datum.s === 'Vorobyev et al., 2016'"}],
              "mark": {"type": "point", "filled": true, "stroke": "black", "strokeWidth": 1, "opacity": 1, "size": 620},
              "encoding": {
                "fill": {"field": "s", "type": "nominal", "scale": {"domain": ["Marini et al., 2020", "Kelly et al., 2020", "Vorobyev et al., 2016"], "range": ["transparent", "#000000", "#000000"]},
                  "legend": {"orient": "none", "legendX": 300, "legendY": 483, "title": null, "labelFontSize": 26, "labelOffset": 71, "rowPadding": 7, "symbolSize": 380, "padding": 0}},
                "shape": {"field": "s", "type": "nominal", "scale": {"domain": ["Marini et al., 2020", "Kelly et al., 2020", "Vorobyev et al., 2016"], "range": ["circle", "diamond", "triangle-up"]},
                  "legend": {"orient": "none", "legendX": 300, "legendY": 483, "title": null, "labelFontSize": 26, "labelOffset": 71, "rowPadding": 7, "symbolSize": 380, "padding": 0}}
              }
            }
          ]
        },
        {
          "data": {"name": "r_tke"},
          "mark": {"type": "line", "clip": true, "strokeWidth": 3},
          "encoding": {
            "x": {"field": "E", "type": "quantitative", "scale": {"domain": [0, 20], "nice": false, "zero": false}, "axis": null},
            "y": {"field": "T", "type": "quantitative", "scale": {"domain": [167.887, 180], "nice": false, "zero": false},
              "axis": {"orient": "right", "values": [168, 170, 172, 174, 176, 178, 180], "tickSize": 7, "labelPadding": 14, "labelFontSize": 26, "title": "TKE", "titleFontSize": 32, "titleAngle": 270, "titleBaseline": "top", "titlePadding": 12}},
            "stroke": {"field": "s", "type": "nominal", "scale": {"domain": ["Maslov, 2022", "Maslov, 2022, 0.01-10 MeV", "TKE 239Pu(n,F)", "TKE 239Pu(n,f)"], "range": ["#0000ff", "#0000ff", "#ff0000", "#ff0000"]},
              "legend": {"orient": "none", "legendX": 300, "legendY": 585, "title": null, "labelFontSize": 26, "labelOffset": 71, "rowPadding": 7, "symbolType": "M-11,0H11", "symbolSize": 100, "symbolStrokeWidth": 4, "padding": 0}},
            "strokeDash": {"field": "s", "type": "nominal", "scale": {"domain": ["Maslov, 2022", "Maslov, 2022, 0.01-10 MeV", "TKE 239Pu(n,F)", "TKE 239Pu(n,f)"], "range": [[10, 6], [1, 0], [1, 0], [22, 12]]},
              "legend": {"orient": "none", "legendX": 300, "legendY": 585, "title": null, "labelFontSize": 26, "labelOffset": 71, "rowPadding": 7, "symbolType": "M-11,0H11", "symbolSize": 100, "symbolStrokeWidth": 4, "padding": 0}}
          }
        }
      ],
      "resolve": {"scale": {"x": "independent", "y": "independent"}}
    }
  ]
}
